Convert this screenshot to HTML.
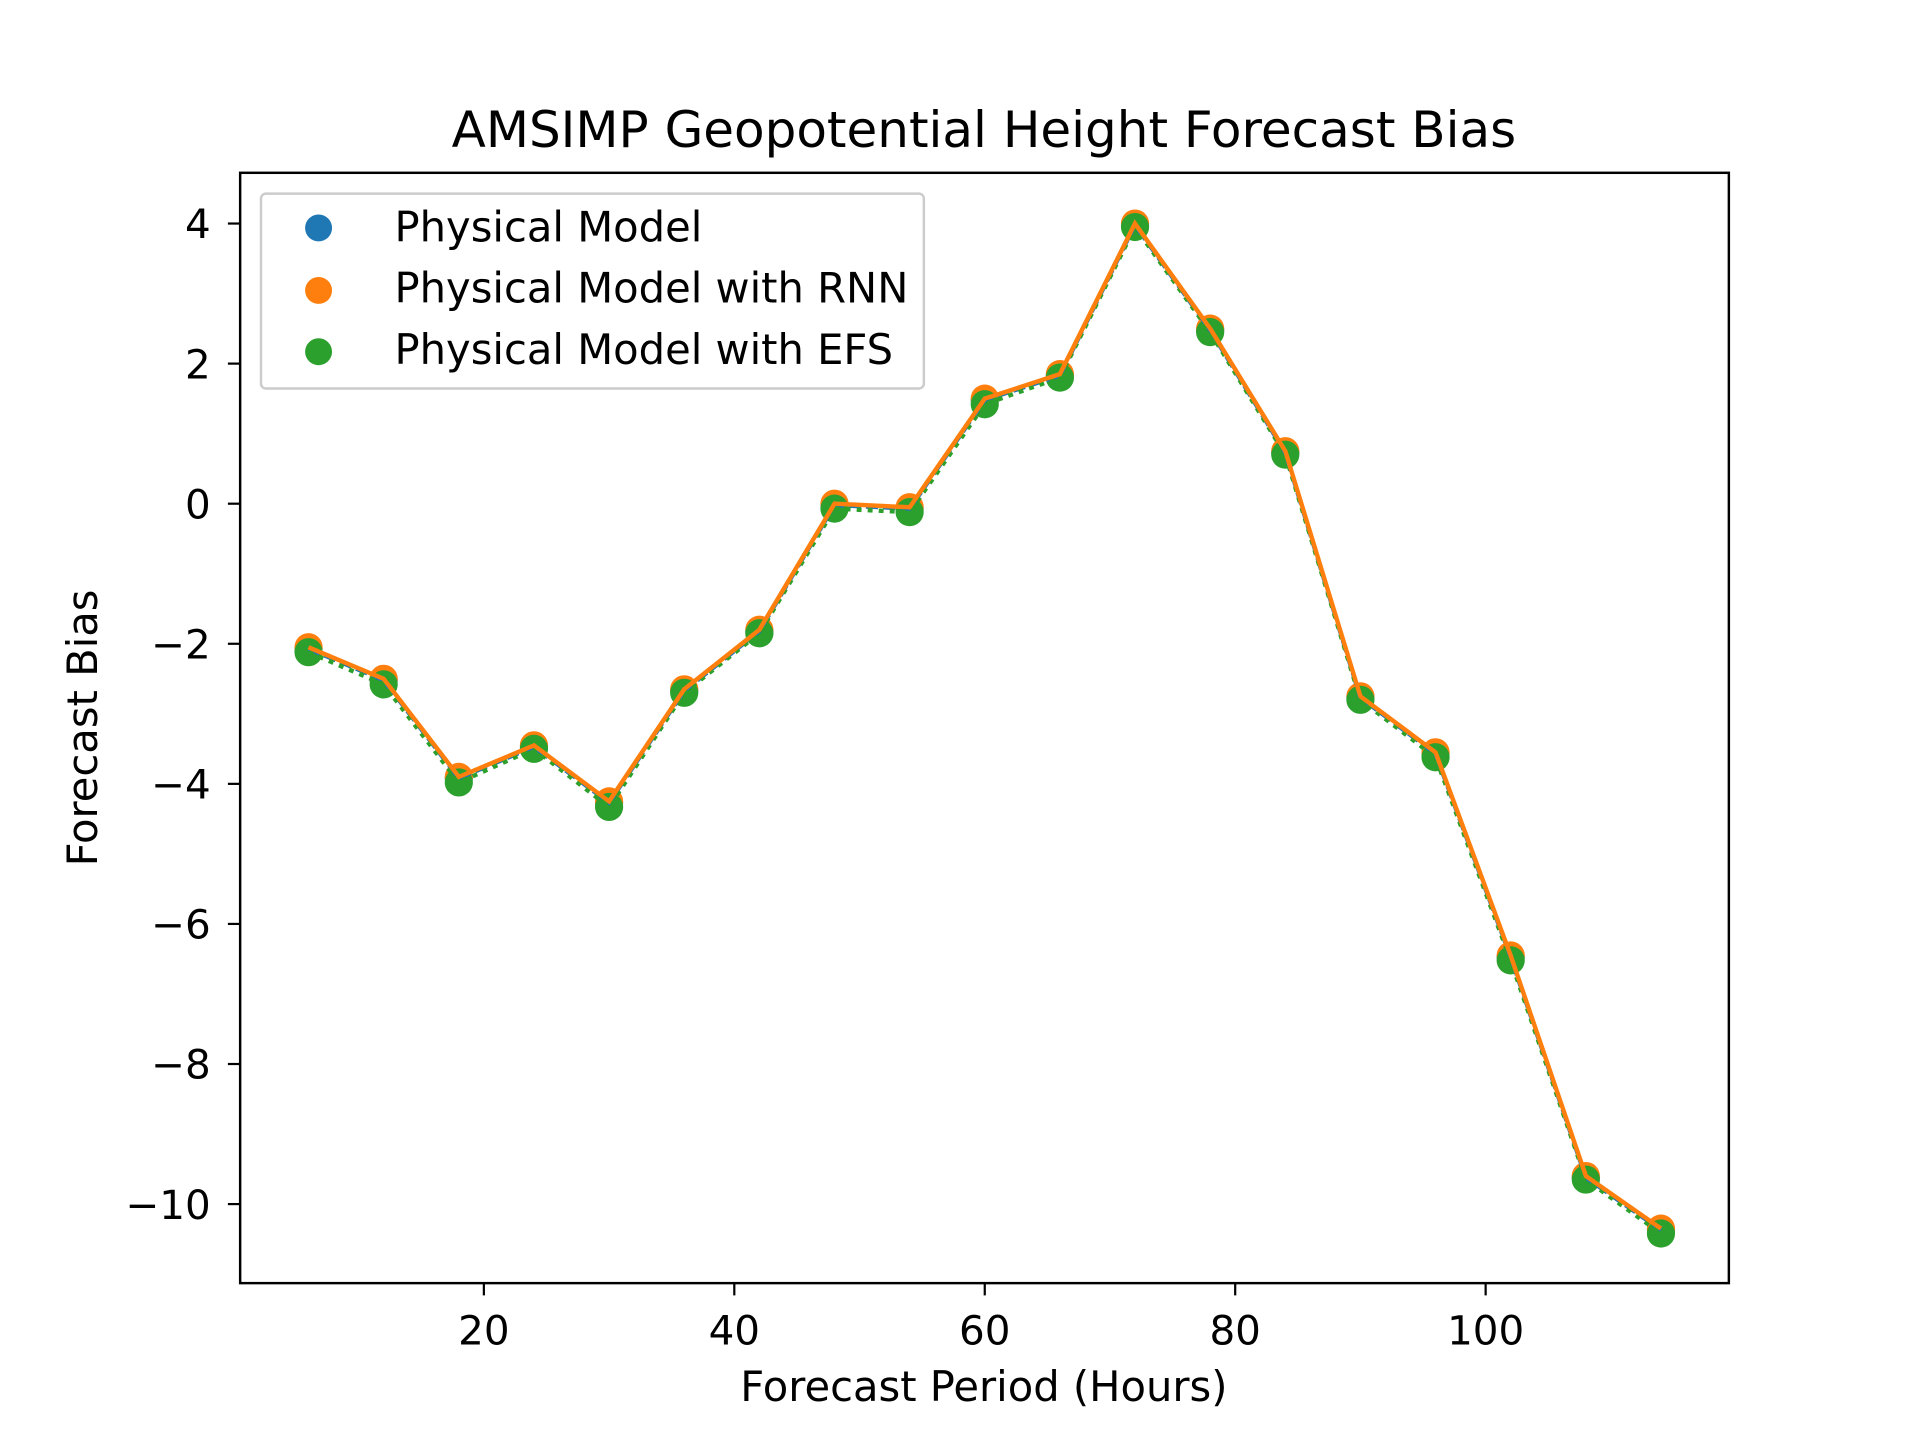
<!DOCTYPE html>
<html><head><meta charset="utf-8"><style>html,body{margin:0;padding:0;background:#fff}svg{display:block}text{font-family:"DejaVu Sans","Liberation Sans",sans-serif;fill:#000}</style></head>
<body>
<svg id="chart" width="1920" height="1440" viewBox="0 0 1567 1175" preserveAspectRatio="none" xmlns="http://www.w3.org/2000/svg">
<text x="803" y="120" font-size="40.8" text-anchor="middle">AMSIMP Geopotential Height Forecast Bias</text>
<g id="plot"></g>
<rect x="196" y="141" width="1215" height="906" fill="none" stroke="#000" stroke-width="2"/>
<g id="axes"></g>
<text x="803" y="1143" font-size="34" text-anchor="middle">Forecast Period (Hours)</text>
<text x="0" y="0" font-size="34" text-anchor="middle" transform="translate(79,594) rotate(-90)">Forecast Bias</text>
<g>
<rect x="213" y="158" width="541" height="159" rx="4" fill="#fff" fill-opacity="0.8" stroke="#ccc" stroke-width="2"/>
<circle cx="260" cy="186" r="11" fill="#1f77b4"/>
<text x="322" y="197" font-size="34">Physical Model</text>
<circle cx="260" cy="237" r="11" fill="#ff7f0e"/>
<text x="322" y="247" font-size="34">Physical Model with RNN</text>
<circle cx="260" cy="287" r="11" fill="#2ca02c"/>
<text x="322" y="297" font-size="34">Physical Model with EFS</text>
</g>
</svg>
<script>
const hours = [6,12,18,24,30,36,42,48,54,60,66,72,78,84,90,96,102,108,114];
const physical = [-2.07,-2.52,-3.92,-3.47,-4.27,-2.67,-1.82,-0.02,-0.07,1.48,1.83,3.98,2.48,0.73,-2.77,-3.57,-6.47,-9.62,-10.37];
const rnn = [-2.05,-2.5,-3.9,-3.45,-4.25,-2.65,-1.8,0.0,-0.05,1.5,1.85,4.0,2.5,0.75,-2.75,-3.55,-6.45,-9.6,-10.35];
const efs = [-2.12,-2.58,-3.98,-3.5,-4.33,-2.7,-1.85,-0.07,-0.12,1.42,1.8,3.95,2.45,0.7,-2.8,-3.62,-6.52,-9.65,-10.42];
const xTicks = [20,40,60,80,100];
const yTicks = [4,2,0,-2,-4,-6,-8,-10];
const yTickLabels = ["4","2","0","\u22122","\u22124","\u22126","\u22128","\u221210"];

const X0=196,X1=1411,Y0=141,Y1=1047;
function sx(v){return 190.5+v*10.22;}
function sy(v){return 411-v*57.15;}
const NS="http://www.w3.org/2000/svg";
const plot=document.getElementById('plot'), axes=document.getElementById('axes');
function mk(tag,attrs,parent){const e=document.createElementNS(NS,tag);for(const k in attrs)e.setAttribute(k,attrs[k]);parent.appendChild(e);return e;}

xTicks.forEach((t,i)=>{
  const l=mk('line',{x1:sx(t),x2:sx(t),y1:Y1,y2:Y1+10,stroke:'#000','stroke-width':1.8},axes);
  
  
  const tx=mk('text',{x:sx(t),y:Y1+50,'font-size':33,'text-anchor':'middle'},axes);
  tx.textContent=String(t);
  
  
});
yTicks.forEach((t,i)=>{
  const l=mk('line',{x1:X0-10,x2:X0,y1:sy(t),y2:sy(t),stroke:'#000','stroke-width':1.8},axes);
  
  
  const tx=mk('text',{x:X0-24,y:sy(t)+12,'font-size':33,'text-anchor':'end'},axes);
  tx.textContent=yTickLabels[i];
  
  
});

const series=[
  {name:'physical',vals:physical,color:'#1f77b4',dash:'10,4'},
  {name:'rnn',vals:rnn,color:'#ff7f0e',dash:''},
  {name:'efs',vals:efs,color:'#2ca02c',dash:'4,5'}
];
series.forEach(s=>{
  s.vals.forEach((v,i)=>{
    const c=mk('circle',{cx:sx(hours[i]),cy:sy(v),r:11.5,fill:s.color},plot);
    
    
  });
});
[series[0],series[2],series[1]].forEach(s=>{
  const d=s.vals.map((v,i)=>(i?'L':'M')+sx(hours[i]).toFixed(1)+','+sy(v).toFixed(1)).join(' ');
  const p=mk('path',{d:d,fill:'none',stroke:s.color,'stroke-width':3.6,'stroke-dasharray':s.dash},plot);
  
  
});
</script>
</body></html>
